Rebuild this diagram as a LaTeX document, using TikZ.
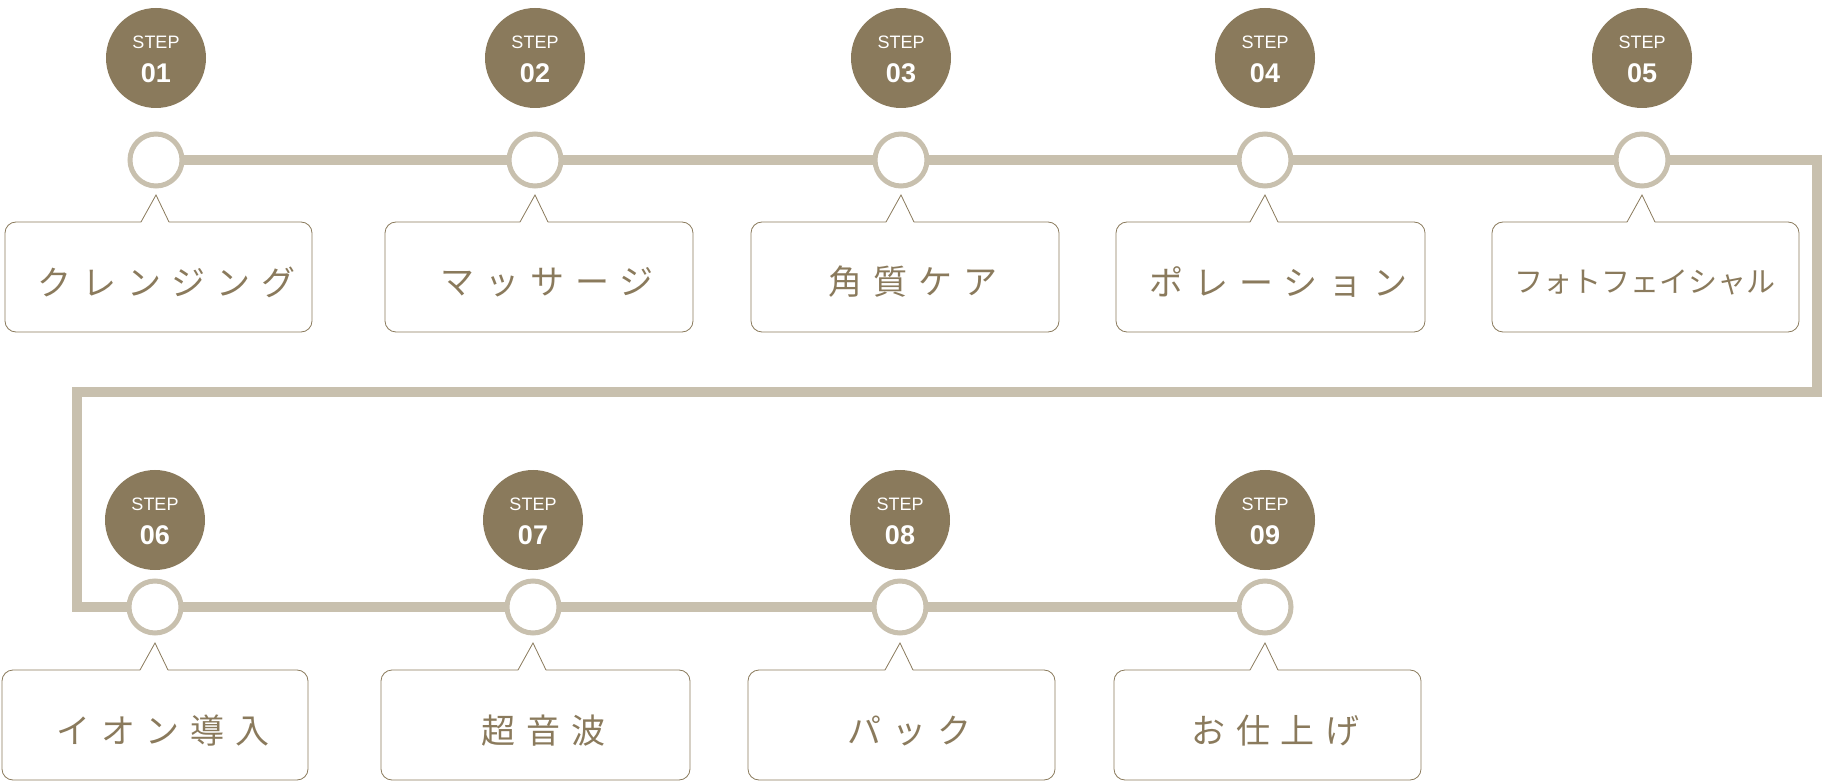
\documentclass[tikz,border=0pt]{standalone}
\usepackage{fontspec}
\setmainfont{Liberation Sans}
\newfontfamily\jp[LetterSpace=32]{Noto Sans CJK JP}
\newfontfamily\jpn{Noto Sans CJK JP}
\definecolor{brn}{HTML}{8A7A5C}
\definecolor{lin}{HTML}{C8C0AE}
\begin{document}
\begin{tikzpicture}[x=1pt,y=-1pt,
  stepc/.style={circle,fill=brn,minimum size=100pt,inner sep=0pt},
  steptxt/.style={text=white,inner sep=0pt,font=\fontsize{18}{18}\selectfont},
  stepnum/.style={text=white,inner sep=0pt,font=\bfseries\fontsize{27}{27}\selectfont},
  dot/.style={circle,draw=lin,line width=5pt,fill=white,minimum size=52pt,inner sep=0pt},
  conn/.style={draw=lin,line width=10pt},
  lbl/.style={text=brn,font=\jp\fontsize{34}{36}\selectfont}]
\useasboundingbox (0,0) rectangle (1824,783);
\newcommand\stepbox[4]{% x center, top y, left, right
  \draw[brn,line width=0.8pt,rounded corners=11pt] (#3,#2) rectangle (#4,#2+110);
  \fill[white] (#1-15,#2+1) -- (#1,#2-27) -- (#1+13,#2+1) -- cycle;
  \draw[brn,line width=0.8pt] (#1-15,#2) -- (#1,#2-27) -- (#1+13,#2);
}
\newcommand\stepmark[3]{% name, x, y
  \node[stepc] (s#1) at (#2,#3) {};
  \node[steptxt] (st#1) at (#2,#3-16) {STEP};
  \node[stepnum] (sn#1) at (#2,#3+15) {0#1};
}
\draw[conn] (156,160) -- (1817,160) -- (1817,392) -- (77,392) -- (77,607) -- (1265,607);
\foreach \n/\x/\l/\r/\t in {1/156/5/312/クレンジング,2/535/385/693/マッサージ,3/901/751/1059/角質ケア,4/1265/1116/1425/ポレーション}{
  \stepmark{\n}{\x}{58}
  \node[dot] (d\n) at (\x,160) {};
  \stepbox{\x}{222}{\l}{\r}
  \node[lbl] (b\n) at ({(\l+\r)/2+8},282) {\t};
}
\stepmark{5}{1642}{58}
\node[dot] (d5) at (1642,160) {};
\stepbox{1642}{222}{1492}{1799}
\node[text=brn,font=\jpn\fontsize{29}{30}\selectfont] (b5) at (1645,282) {フォトフェイシャル};
\foreach \n/\x/\l/\r/\t in {6/155/2/308/イオン導入,7/533/381/690/超音波,8/900/748/1055/パック,9/1265/1114/1421/お仕上げ}{
  \stepmark{\n}{\x}{520}
  \node[dot] (d\n) at (\x,607) {};
  \stepbox{\x}{670}{\l}{\r}
  \node[lbl] (b\n) at ({(\l+\r)/2+8},731) {\t};
}
\end{tikzpicture}
\end{document}
